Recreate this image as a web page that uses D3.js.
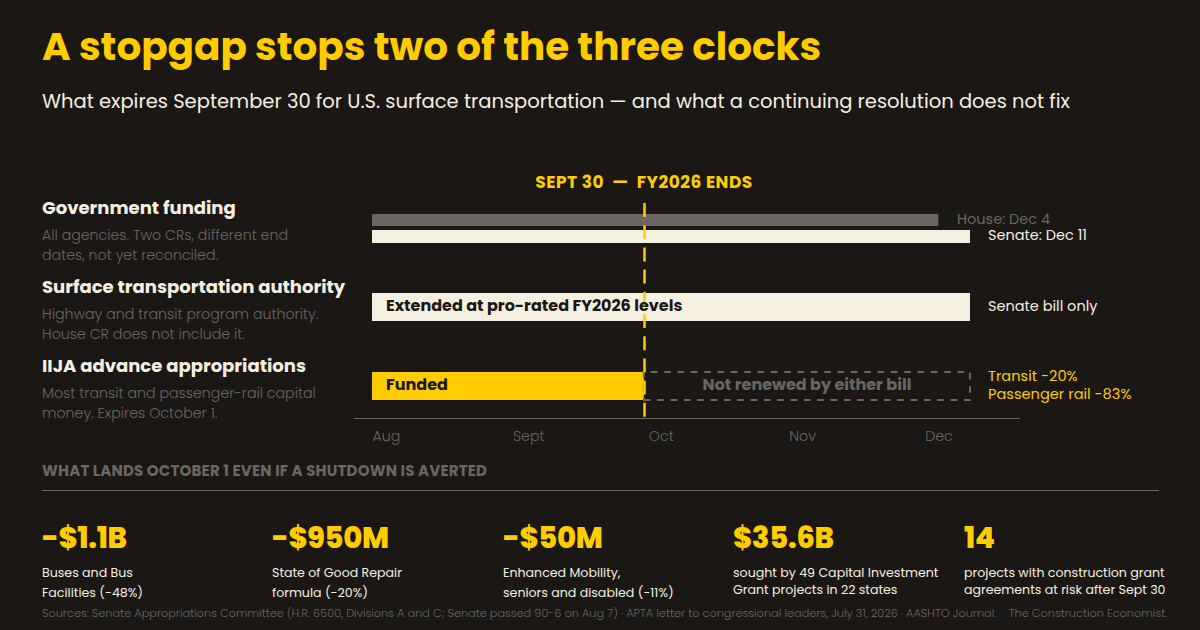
<!DOCTYPE html>
<html><head><meta charset="utf-8">
<script src="https://cdn.jsdelivr.net/npm/d3@7/dist/d3.min.js"></script>
<style>
html,body{margin:0;padding:0;background:#1a1715;}
svg{display:block;}
text{font-family:Poppins,Inter,sans-serif;}
</style></head><body>
<svg id="c" width="1200" height="630"></svg>
<script>
const title = "A stopgap stops two of the three clocks";
const subtitle = "What expires September 30 for U.S. surface transportation — and what a continuing resolution does not fix";
const rowHeads = ["Government funding","Surface transportation authority","IIJA advance appropriations"];
const rowNotes = [["All agencies. Two CRs, different end","dates, not yet reconciled."],["Highway and transit program authority.","House CR does not include it."],["Most transit and passenger-rail capital","money. Expires October 1."]];
const tickDates = ["2026-08-01","2026-09-01","2026-10-01","2026-11-01","2026-12-01"];
const tickNames = ["Aug","Sept","Oct","Nov","Dec"];
const startDate = "2026-08-01", deadline = "2026-09-30", houseEnd = "2026-12-04", senateEnd = "2026-12-11";
const statValues = ["-$1.1B","-$950M","-$50M","$35.6B","14"];
const statNotes = [["Buses and Bus","Facilities (-48%)"],["State of Good Repair","formula (-20%)"],["Enhanced Mobility,","seniors and disabled (-11%)"],["sought by 49 Capital Investment","Grant projects in 22 states"],["projects with construction grant","agreements at risk after Sept 30"]];
const sources = "Sources: Senate Appropriations Committee (H.R. 6500, Divisions A and C; Senate passed 90-6 on Aug 7) · APTA letter to congressional leaders, July 31, 2026 · AASHTO Journal.    The Construction Economist.";

const GOLD="#ffcc00", CREAM="#f5efe0", GRAY="#6b6760", BG="#1a1715", TXT="#f5efe0";
const svg=d3.select("#c");
const D=s=>new Date(s+"T00:00:00Z");
const x=d3.scaleUtc().domain([D(startDate),D(senateEnd)]).range([372,970]);
function T(s,px,py,size,weight,fill,anchor,ls){const t=svg.append("text").attr("x",px).attr("y",py).attr("font-size",size).attr("font-weight",weight).attr("fill",fill).attr("text-anchor",anchor||"start").attr("xml:space","preserve").text(s); if(ls)t.attr("letter-spacing",ls); return t;}
T(title,42,60,38.9,700,GOLD);
T(subtitle,42,108,19.5,400,TXT);
T("SEPT 30  —  FY2026 ENDS",644,188,17,700,GOLD,"middle",0.5);
rowHeads.forEach((h,i)=>{
  T(h,42,[214,293,372][i],18.05,700,TXT);
  rowNotes[i].forEach((n,j)=>T(n,42,[240,319,398][i]+j*20,14.2,300,GRAY));
});
const x0=x(D(startDate)), xd=x(D(deadline)), xe=x(D(senateEnd));
svg.append("rect").attr("x",x0).attr("y",214).attr("width",x(D(houseEnd))-x0).attr("height",12).attr("fill",GRAY);
svg.append("rect").attr("x",x0).attr("y",230).attr("width",xe-x0).attr("height",13).attr("fill",CREAM);
svg.append("rect").attr("x",x0).attr("y",293).attr("width",xe-x0).attr("height",28).attr("fill",CREAM);
svg.append("rect").attr("x",x0).attr("y",372).attr("width",xd-x0).attr("height",28).attr("fill",GOLD);
const p=d3.path();p.moveTo(xd,400);p.lineTo(xe,400);p.lineTo(xe,372);p.lineTo(xd,372);p.closePath();
svg.append("path").attr("d",p.toString()).attr("fill","none").attr("stroke",GRAY).attr("stroke-width",2).attr("stroke-dasharray","6.667 6.667");
svg.append("line").attr("x1",xd+0.7).attr("x2",xd+0.7).attr("y1",203).attr("y2",418).attr("stroke",GOLD).attr("stroke-width",2.5).attr("stroke-dasharray","14 8.2");
T("Extended at pro-rated FY2026 levels",386,311,16,700,BG);
T("Funded",386,390,16,700,BG);
T("Not renewed by either bill",807,390,16,700,GRAY,"middle");
T("House: Dec 4",957,224,14.5,400,GRAY);
T("Senate: Dec 11",988,240,14.5,400,TXT);
T("Senate bill only",988,311,14.5,400,TXT);
T("Transit -20%",988,381,14.6,400,GOLD);
T("Passenger rail -83%",988,399,14.6,400,GOLD);
svg.append("line").attr("x1",354).attr("x2",1020).attr("y1",418.5).attr("y2",418.5).attr("stroke",GRAY);
const ax=svg.append("g").attr("transform","translate(0,418)").call(d3.axisBottom(x).tickValues(tickDates.map(D)).tickSize(0).tickPadding(13).tickFormat((d,i)=>tickNames[i]));
ax.select(".domain").remove();
ax.selectAll("text").attr("text-anchor","start").attr("font-size",14.2).attr("font-weight",300).attr("fill",GRAY).style("font-family","Poppins,Inter,sans-serif");
T("WHAT LANDS OCTOBER 1 EVEN IF A SHUTDOWN IS AVERTED",42,476,15,700,GRAY,"start",0.2);
svg.append("line").attr("x1",42).attr("x2",1159).attr("y1",490.5).attr("y2",490.5).attr("stroke",GRAY);
const sx=[42,272,503,733,964];
statValues.forEach((v,i)=>{
  T(v,sx[i],548,29,800,GOLD,"start",-0.3);
  statNotes[i].forEach((n,j)=>T(n,sx[i],577+j*(i>2?17:20),12.6,400,TXT));
});
T(sources,42,617,11.3,300,GRAY);
</script></body></html>
